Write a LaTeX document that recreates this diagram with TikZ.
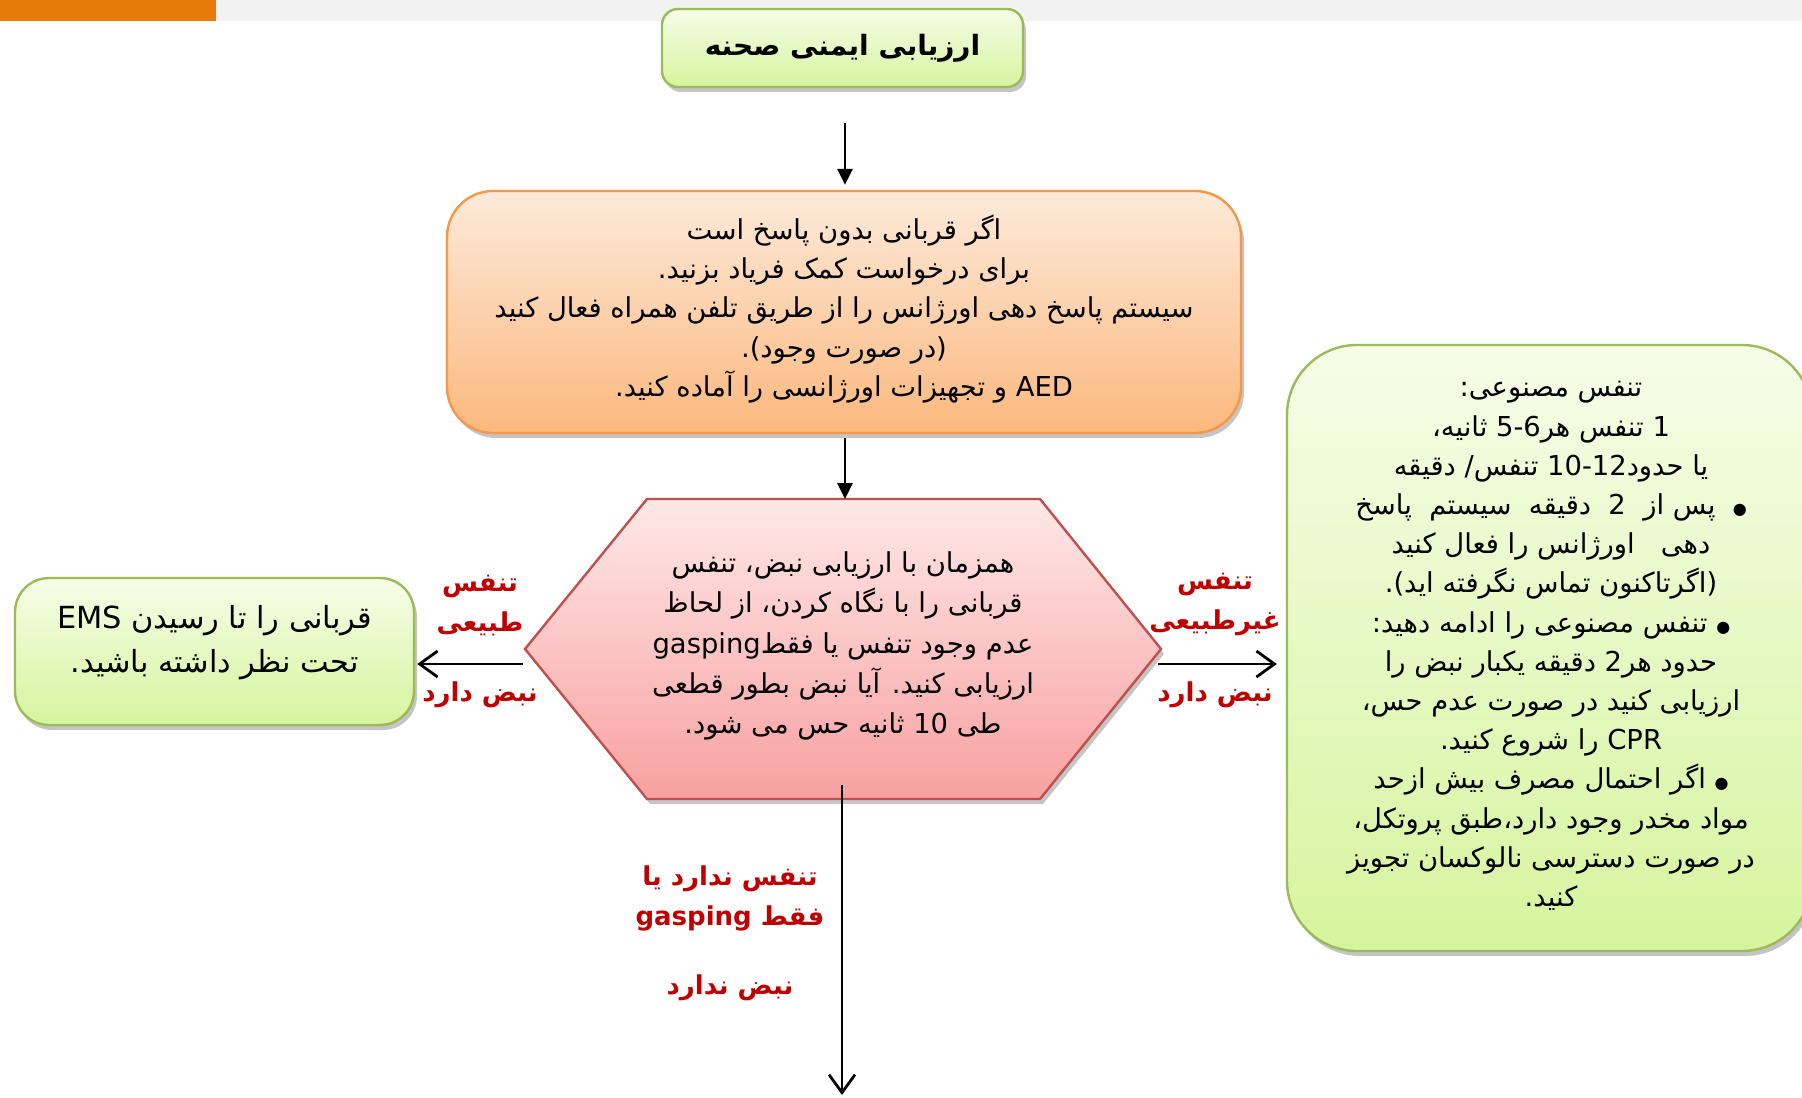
\documentclass[tikz,border=0pt]{standalone}
\usepackage{fontspec}
\usepackage{xcolor}
\usepackage{tikz}
\usetikzlibrary{arrows.meta, positioning, shadows}
\TeXXeTstate=1
\newfontfamily\fafont[Script=Arabic]{DejaVu Sans}
\definecolor{BarOrange}{RGB}{232,122,10}
\definecolor{BandGray}{RGB}{242,242,242}
\definecolor{GreenLine}{RGB}{155,187,89}
\definecolor{GreenTop}{RGB}{246,253,232}
\definecolor{GreenBot}{RGB}{214,244,158}
\definecolor{OrangeLine}{RGB}{247,150,70}
\definecolor{OrangeTop}{RGB}{253,234,218}
\definecolor{OrangeBot}{RGB}{251,184,126}
\definecolor{HexLine}{RGB}{192,80,77}
\definecolor{PinkTop}{RGB}{255,232,232}
\definecolor{PinkBot}{RGB}{248,160,160}
\definecolor{TagRed}{RGB}{192,0,0}
\newcommand{\fa}[1]{\beginR #1\endR}
\newcommand{\lat}[1]{\beginL #1\endL{}}
\newcommand{\fabullet}{{\fontsize{8}{8}\selectfont ●}}

\begin{document}
\begin{tikzpicture}[x=0.5pt, y=-0.5pt,
  txt/.style={font=\fafont\fontsize{13.7}{19.6}\selectfont, align=center, text=black},
  shade/.style={drop shadow={shadow xshift=1.5pt, shadow yshift=-2.5pt, opacity=0.45}},
  greenbox/.style={draw=GreenLine, line width=1.2pt, top color=GreenTop, bottom color=GreenBot, shade},
  orangebox/.style={draw=OrangeLine, line width=1.2pt, top color=OrangeTop, bottom color=OrangeBot, shade},
  tag/.style={font=\fafont\bfseries\fontsize{13}{20}\selectfont, text=TagRed, align=center},
  flow/.style={line width=1.4pt, -{Triangle[length=8pt,width=7.5pt]}},
  branch/.style={line width=1.4pt, -{Straight Barb[length=9pt,width=13pt]}}]
  \useasboundingbox (0,0) rectangle (1802,1097);
  \fill[white] (0,0) rectangle (1802,1097);
  \fill[BandGray] (0,0) rectangle (1802,21);
  \fill[BarOrange] (0,0) rectangle (216,21);

  \node[greenbox, rounded corners=8pt, minimum width=180.5pt, minimum height=39pt,
        txt, font=\fafont\bfseries\fontsize{14}{18}\selectfont] (scene) at (842.5,48)
    {\fa{ارزیابی ایمنی صحنه}};

  \node[orangebox, rounded corners=23pt, minimum width=397pt, minimum height=121pt] (call) at (844,312) {};
  \node[txt] (calltext) at (844,309) {%
    \fa{اگر قربانی بدون پاسخ است}\\
    \fa{برای درخواست کمک فریاد بزنید.}\\
    \fa{سیستم پاسخ دهی اورژانس را از طریق تلفن همراه فعال کنید}\\
    \fa{(در صورت وجود).}\\
    \fa{\lat{AED} و تجهیزات اورژانسی را آماده کنید.}};

  \coordinate (hexW) at (525,649);
  \coordinate (hexNW) at (647,499);
  \coordinate (hexNE) at (1040,499);
  \coordinate (hexE) at (1161,649);
  \coordinate (hexSE) at (1040,799);
  \coordinate (hexSW) at (647,799);
  \path[draw=HexLine, line width=1.2pt, top color=PinkTop, bottom color=PinkBot, shade]
    (hexW) -- (hexNW) -- (hexNE) -- (hexE) -- (hexSE) -- (hexSW) -- cycle;
  \node[txt, font=\fafont\fontsize{13.7}{20.2}\selectfont] (check) at (843,646) {%
    \fa{همزمان با ارزیابی نبض، تنفس}\\
    \fa{قربانی را با نگاه کردن، از لحاظ}\\
    \fa{عدم وجود تنفس یا فقط\lat{gasping}}\\
    \fa{ارزیابی کنید. آیا نبض بطور قطعی}\\
    \fa{طی \lat{10} ثانیه حس می شود.}};

  \node[greenbox, rounded corners=17pt, minimum width=199.5pt, minimum height=73.5pt] (watch) at (214.5,651.5) {};
  \node[txt, font=\fafont\fontsize{15.2}{22}\selectfont] (watchtext) at (214.5,643) {%
    \fa{قربانی را تا رسیدن \lat{EMS}}\\
    \fa{تحت نظر داشته باشید.}};

  \node[greenbox, rounded corners=35pt, minimum width=262.5pt, minimum height=303pt] (rescue) at (1549.5,648) {};
  \node[txt] (rescuetext) at (1551,646) {%
    \fa{تنفس مصنوعی:}\\
    \fa{\lat{1} تنفس هر\lat{5-6} ثانیه،}\\
    \fa{یا حدود\lat{10-12} تنفس/ دقیقه}\\
    \fa{\fabullet\ \ پس از \ \lat{2} \ دقیقه \ سیستم \ پاسخ}\\
    \fa{دهی \ \ اورژانس را فعال کنید}\\
    \fa{(اگرتاکنون تماس نگرفته اید).}\\
    \fa{\fabullet\ تنفس مصنوعی را ادامه دهید:}\\
    \fa{حدود هر\lat{2} دقیقه یکبار نبض را}\\
    \fa{ارزیابی کنید در صورت عدم حس،}\\
    \fa{\lat{CPR} را شروع کنید.}\\
    \fa{\fabullet\ اگر احتمال مصرف بیش ازحد}\\
    \fa{مواد مخدر وجود دارد،طبق پروتکل،}\\
    \fa{در صورت دسترسی نالوکسان تجویز}\\
    \fa{کنید.}};

  \node[tag] (leftup) at (480,606) {\fa{تنفس}\\\fa{طبیعی}};
  \node[tag] (leftdown) at (480,695) {\fa{نبض دارد}};
  \node[tag] (rightup) at (1215,605) {\fa{تنفس}\\\fa{غیرطبیعی}};
  \node[tag] (rightdown) at (1215,695) {\fa{نبض دارد}};
  \node[tag] (downup) at (730,898) {\fa{تنفس ندارد یا}\\\fa{فقط \lat{gasping}}};
  \node[tag] (downdown) at (730,988) {\fa{نبض ندارد}};

  \coordinate (start) at (845,123);
  \coordinate (hexN) at (845,499);
  \coordinate (hexL) at (523,664);
  \coordinate (hexR) at (1158,664);
  \coordinate (hexB) at (842,785);
  \coordinate (end) at (842,1095);
  \draw[flow, shorten >=2.5pt] (start) -- (start |- call.north);
  \draw[flow, shorten <=2pt] (hexN |- call.south) -- (hexN);
  \draw[branch, shorten >=1pt] (hexL) -- (hexL -| watch.east);
  \draw[branch, shorten >=4.5pt] (hexR) -- (hexR -| rescue.west);
  \draw[branch] (hexB) -- (end);
\end{tikzpicture}
\end{document}
